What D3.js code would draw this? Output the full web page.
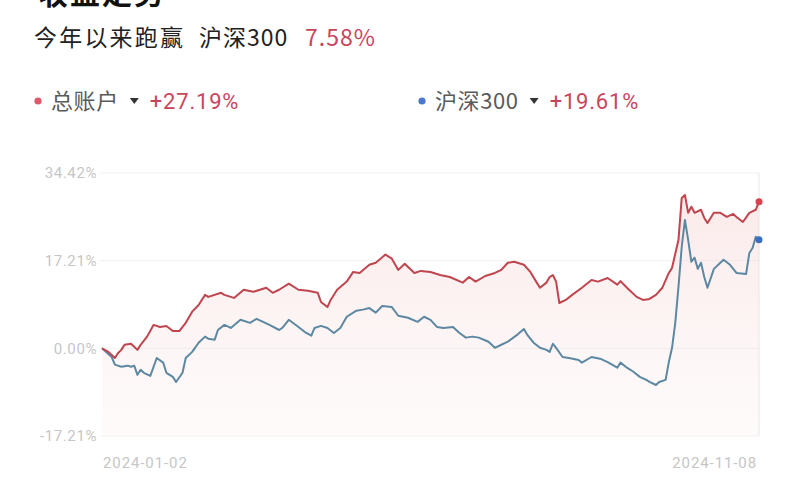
<!DOCTYPE html>
<html>
<head>
<meta charset="utf-8">
<script src="https://cdn.jsdelivr.net/npm/d3@7"></script>
<style>
  html, body { margin: 0; padding: 0; background: #ffffff; }
  svg { display: block; }
</style>
</head>
<body>
<svg id="chart" width="800" height="500"></svg>
<script>
// ---------- data ----------
const titleText = "收益走势";
const subtitleParts = ["今年以来跑赢", "沪深300", "7.58%"];
const seriesNames = ["总账户", "沪深300"];
const legendValues = ["+27.19%", "+19.61%"];
const yTicks = [-17.21, 0.00, 17.21, 34.42];
const dateLabels = ["2024-01-02", "2024-11-08"];
const dayCount = 204; // trading-day index of the last point

// [trading-day index, cumulative return %]
const accountSeries = [
  [0,0.0],[2,-0.7],[4,-1.9],[5,-0.9],[6,-0.3],[7,0.7],[9,0.9],[10,0.3],[11,-0.3],[12,0.7],
  [14,2.3],[16,4.6],[18,4.2],[20,4.4],[22,3.4],[24,3.4],[26,5.0],[28,7.2],[30,8.5],[32,10.5],
  [33,10.1],[37,10.9],[38,10.5],[41,9.9],[44,11.5],[47,11.1],[51,11.9],[53,10.9],[55,11.5],[58,12.7],
  [61,11.5],[64,11.3],[67,10.9],[68,9.1],[70,8.1],[71,9.5],[73,11.5],[76,13.1],[78,15.0],[80,14.8],
  [83,16.4],[85,16.8],[88,18.4],[90,17.6],[92,15.4],[94,16.6],[97,14.8],[99,15.2],[102,15.0],[105,14.4],
  [108,14.0],[112,12.9],[114,14.0],[116,13.1],[119,14.2],[122,14.8],[124,15.4],[126,16.8],[128,17.0],[131,16.4],
  [133,15.0],[135,12.9],[136,11.9],[138,12.9],[139,14.0],[140,14.4],[141,13.1],[142,8.9],[144,9.5],[146,10.5],
  [149,11.9],[152,13.4],[154,13.1],[157,13.8],[160,12.5],[161,13.2],[163,11.9],[166,10.1],[168,9.5],[170,9.7],
  [172,10.5],[174,11.9],[176,14.8],[177,15.8],[179,21.3],[180,29.5],[181,30.1],[182,26.6],[183,27.8],[184,26.6],
  [186,27.2],[187,25.6],[188,24.6],[190,26.6],[192,26.6],[194,25.8],[196,26.4],[197,25.8],[199,24.8],[201,26.6],
  [203,27.2],[204,28.8]
];

const csiSeries = [
  [0,0.0],[3,-1.7],[4,-3.2],[6,-3.6],[8,-3.4],[9,-3.6],[10,-3.4],[11,-5.2],[12,-4.2],[13,-4.8],
  [15,-5.4],[17,-1.9],[19,-2.8],[20,-4.8],[22,-5.6],[23,-6.6],[25,-4.8],[26,-1.9],[28,-0.7],[30,1.1],
  [32,2.3],[33,1.9],[35,1.7],[36,3.6],[38,4.6],[40,4.0],[43,5.6],[46,5.0],[48,5.8],[50,5.2],
  [52,4.6],[55,3.6],[56,4.0],[58,5.6],[61,4.2],[63,3.2],[65,2.5],[66,4.0],[68,4.4],[70,4.0],
  [72,3.0],[74,4.0],[76,6.2],[79,7.4],[81,7.6],[83,7.9],[85,7.0],[87,8.3],[90,8.1],[92,6.4],
  [95,6.0],[98,5.2],[100,6.2],[102,5.6],[104,4.2],[106,4.0],[109,4.2],[111,3.0],[113,2.1],[115,2.3],
  [117,2.1],[120,1.3],[122,0.1],[124,0.7],[126,1.3],[129,2.7],[131,3.8],[132,2.7],[134,1.1],[136,0.1],
  [138,-0.3],[139,-0.7],[140,0.9],[141,0.1],[143,-1.7],[145,-1.9],[148,-2.3],[149,-2.8],[152,-1.7],[155,-2.1],
  [157,-2.7],[160,-3.8],[161,-2.8],[163,-3.8],[165,-4.6],[167,-5.6],[169,-6.2],[170,-6.6],[172,-7.2],[173,-6.6],
  [175,-6.2],[176,-2.7],[177,0.1],[178,5.0],[179,12.1],[180,19.9],[181,25.2],[182,21.3],[183,17.0],[184,17.8],
  [185,15.6],[186,16.8],[187,14.0],[188,11.9],[190,15.6],[192,16.8],[193,17.4],[195,16.4],[197,14.8],[200,14.6],
  [201,18.7],[202,19.7],[203,21.9],[204,21.3]
];

// ---------- styles ----------
const cjk = "'Noto Sans CJK SC', 'Noto Sans', sans-serif";
const num = "Roboto, 'Noto Sans', sans-serif";
const red = "#bf454f";
const blue = "#5c88a2";
const accent = "#c8465c";
const axisGray = "#c6c6c6";

const svg = d3.select("#chart");

const plot = { left: 102, right: 759, top: 173, bottom: 436 };

const x = d3.scaleLinear().domain([0, dayCount]).range([plot.left, plot.right]);
const y = d3.scaleLinear().domain([yTicks[0], yTicks[yTicks.length - 1]]).range([plot.bottom, plot.top]);

// ---------- header (title is scrolled partly off the top, as in the reference) ----------
svg.append("text")
  .attr("x", 38).attr("y", 4)
  .attr("font-family", cjk).attr("font-size", 30).attr("font-weight", 700)
  .attr("fill", "#111").attr("letter-spacing", 2)
  .text(titleText);

const sub = svg.append("g").attr("font-family", cjk).attr("font-size", 23);
sub.append("text").attr("x", 34).attr("y", 46).attr("fill", "#222").attr("letter-spacing", 2.2).text(subtitleParts[0]);
sub.append("text").attr("x", 199).attr("y", 46).attr("fill", "#222").attr("letter-spacing", 1).text(subtitleParts[1]);
sub.append("text").attr("x", 305).attr("y", 46).attr("fill", accent).attr("letter-spacing", 1).text(subtitleParts[2]);

// ---------- legend ----------
const legendColors = ["#de5a6a", "#4a78cc"];
const legendX = [38, 422];
seriesNames.forEach((name, i) => {
  const g = svg.append("g").attr("transform", `translate(${legendX[i]},101)`);
  g.append("circle").attr("cx", 0).attr("cy", 0).attr("r", 3.6).attr("fill", legendColors[i]);
  const t = g.append("text").attr("x", 13).attr("y", 8)
    .attr("font-family", cjk).attr("font-size", 22).attr("fill", "#5a5a5a").attr("letter-spacing", 0.6)
    .text(name);
  const w = t.node().getComputedTextLength() + 13;
  g.append("path")
    .attr("d", `M${w + 11},-3 L${w + 20},-3 L${w + 15.5},3 Z`)
    .attr("fill", "#333");
  g.append("text").attr("x", w + 31).attr("y", 8)
    .attr("font-family", num).attr("font-size", 22).attr("fill", accent).attr("letter-spacing", 0.8)
    .text(legendValues[i]);
});

// ---------- grid + axes ----------
const grid = svg.append("g");
yTicks.forEach(v => {
  grid.append("line")
    .attr("x1", plot.left - 2).attr("x2", plot.right)
    .attr("y1", y(v)).attr("y2", y(v))
    .attr("stroke", "#f1f1f1").attr("stroke-width", 1);
});
grid.append("line")
  .attr("x1", plot.right).attr("x2", plot.right)
  .attr("y1", plot.top).attr("y2", plot.bottom)
  .attr("stroke", "#e8e8e8").attr("stroke-width", 1);

const yAxis = d3.axisLeft(y).tickValues(yTicks).tickSize(0).tickPadding(3)
  .tickFormat(d => d.toFixed(2) + "%");
const yg = svg.append("g").attr("transform", `translate(${plot.left - 2},0)`).call(yAxis);
yg.select(".domain").remove();
yg.selectAll("text").attr("font-family", num).attr("font-size", 15).attr("fill", axisGray).attr("letter-spacing", 0.6);

svg.append("text").attr("x", x(0) + 1).attr("y", 468)
  .attr("font-family", num).attr("font-size", 15).attr("fill", axisGray).attr("letter-spacing", 0.9)
  .text(dateLabels[0]);
svg.append("text").attr("x", x(dayCount) - 2).attr("y", 468).attr("text-anchor", "end")
  .attr("font-family", num).attr("font-size", 15).attr("fill", axisGray).attr("letter-spacing", 0.9)
  .text(dateLabels[1]);

// ---------- area fill ----------
const defs = svg.append("defs");
const grad = defs.append("linearGradient").attr("id", "pinkFill")
  .attr("gradientUnits", "userSpaceOnUse")
  .attr("x1", 0).attr("x2", 0).attr("y1", plot.top).attr("y2", plot.bottom);
grad.append("stop").attr("offset", "0%").attr("stop-color", "#f6c9c9").attr("stop-opacity", 0.42);
grad.append("stop").attr("offset", "100%").attr("stop-color", "#f6d6d6").attr("stop-opacity", 0.1);

const area = d3.area()
  .x(d => x(d[0])).y0(y(yTicks[0])).y1(d => y(d[1]));
svg.append("path").datum(accountSeries).attr("d", area).attr("fill", "url(#pinkFill)");

// ---------- lines ----------
const line = d3.line().x(d => x(d[0])).y(d => y(d[1]));
svg.append("path").datum(csiSeries).attr("d", line)
  .attr("fill", "none").attr("stroke", blue).attr("stroke-width", 2).attr("stroke-linejoin", "round");
svg.append("path").datum(accountSeries).attr("d", line)
  .attr("fill", "none").attr("stroke", red).attr("stroke-width", 2).attr("stroke-linejoin", "round");

// end dots
const lastA = accountSeries[accountSeries.length - 1];
const lastC = csiSeries[csiSeries.length - 1];
svg.append("circle").attr("cx", x(lastA[0])).attr("cy", y(lastA[1])).attr("r", 3.5).attr("fill", "#d9414f");
svg.append("circle").attr("cx", x(lastC[0])).attr("cy", y(lastC[1])).attr("r", 3.5).attr("fill", "#3a6fc0");
</script>
</body>
</html>
